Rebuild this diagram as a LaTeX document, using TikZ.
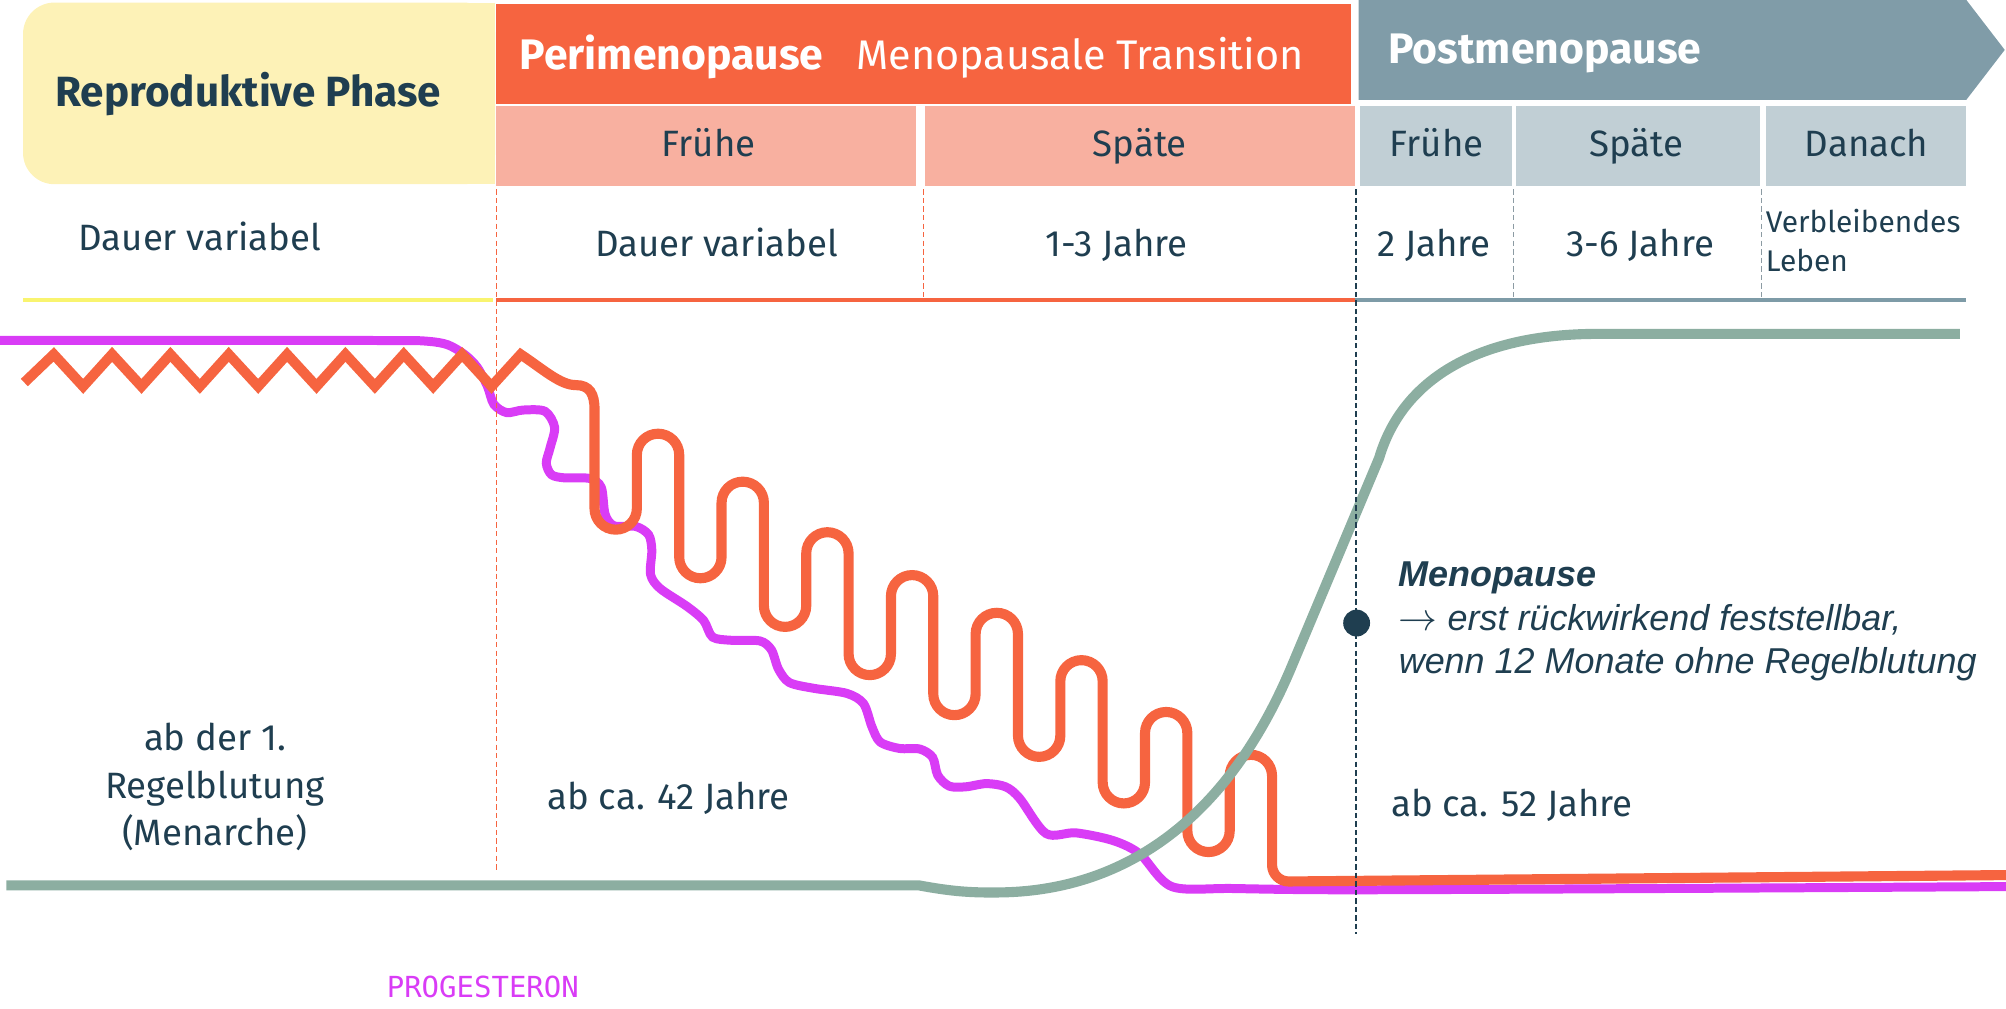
\documentclass[tikz,border=0pt]{standalone}
\usepackage{fontspec}
\setmainfont{Fira Sans}
\newfontfamily\arialfont{Liberation Sans}
\newfontfamily\codefont{DejaVu Sans Mono}
\usepackage{tikz}
\usetikzlibrary{positioning}

\definecolor{navy}{HTML}{1F3E50}
\definecolor{periorange}{HTML}{F66440}
\definecolor{perisalmon}{HTML}{F8B0A0}
\definecolor{reproyellow}{HTML}{FDF2B7}
\definecolor{reproline}{HTML}{F9F46F}
\definecolor{postblue}{HTML}{809CA8}
\definecolor{postlight}{HTML}{C1CFD5}
\definecolor{postline}{HTML}{7E9BA7}
\definecolor{sepgray}{HTML}{8C9BA3}
\definecolor{fshgreen}{HTML}{8CAEA1}
\definecolor{progmagenta}{HTML}{D93CF6}

\begin{document}
\begin{tikzpicture}[x=0.02cm, y=-0.02cm,
        txt/.style={text=navy, inner sep=0pt, font=\fontsize{16.3}{21}\selectfont},
        smalltxt/.style={text=navy, inner sep=0pt, align=left, font=\fontsize{13.3}{17.5}\selectfont},
        phasetxt/.style={text=navy, inner sep=0pt, font=\fontsize{18.8}{22}\selectfont\bfseries},
        headtxt/.style={text=white, inner sep=0pt, font=\fontsize{19}{22}\selectfont\bfseries},
        menotxt/.style={text=navy, inner sep=0pt, align=left, font=\arialfont\itshape\fontsize{16}{19.4}\selectfont},
        hormone/.style={line width=4.5pt},
        rowline/.style={line width=2pt},
        sep/.style={line width=0.7pt, dash pattern=on 2.4pt off 1.4pt}]

        \def\legstep{33.1}
        \def\rad{16.55}

        \useasboundingbox (0,0) rectangle (1568,788);

        % phase boxes
        \fill[reproyellow, rounded corners=14pt] (18,2) rectangle (387,144);
        \fill[reproyellow] (200,2) rectangle (387,144);
        \fill[periorange] (388,3) rectangle (1056,81);
        \fill[postblue] (1062,0) -- (1537,0) -- (1567,39) -- (1537,78) -- (1062,78) -- cycle;

        % sub phase cells
        \foreach \a/\b in {388/716, 723/1059}
        {
            \fill[perisalmon] (\a,83) rectangle (\b,145);
        }
        \foreach \a/\b in {1063/1182, 1185/1376, 1380/1537}
        {
            \fill[postlight] (\a,83) rectangle (\b,145);
        }

        % headings
        \node[phasetxt, anchor=base west] (repro) at (43,83) {Reproduktive Phase};
        \node[headtxt, anchor=base west] (peri) at (406,54) {Perimenopause};
        \node[headtxt, font=\fontsize{18.4}{22}\selectfont, anchor=base west] (transition) at (669,54) {Menopausale Transition};
        \node[headtxt, anchor=base west] (post) at (1085,49.5) {Postmenopause};

        \node[txt, anchor=base] (perifrueh) at (554,122.5) {Frühe};
        \node[txt, anchor=base] (perispaet) at (891,122.5) {Späte};
        \node[txt, anchor=base] (postfrueh) at (1123,122.5) {Frühe};
        \node[txt, anchor=base] (postspaet) at (1279,122.5) {Späte};
        \node[txt, anchor=base] (danach) at (1459,122.5) {Danach};

        % durations
        \node[txt, anchor=base west] (reprodauer) at (61,195.5) {Dauer variabel};
        \node[txt, anchor=base] (fruehdauer) at (560,200.7) {Dauer variabel};
        \node[txt, anchor=base] (spaetdauer) at (873,200.7) {1-3 Jahre};
        \node[txt, anchor=base] (postfruehdauer) at (1121,200.7) {2 Jahre};
        \node[txt, anchor=base] (postspaetdauer) at (1282,200.7) {3-6 Jahre};
        \node[smalltxt, anchor=base west] (danachdauer) at (1380,212.4) {Verbleibendes\\Leben};

        % row lines
        \draw[rowline, reproline] (18,234.5) -- (385,234.5);
        \draw[rowline, periorange] (388,234.5) -- (1059,234.5);
        \draw[rowline, postline] (1059,234.5) -- (1537,234.5);

        % onset ages
        \node[txt, align=center, anchor=base] (menarche) at (168,660.8) {ab der 1.\\Regelblutung\\(Menarche)};
        \node[txt, anchor=base west] (age42) at (427.6,632.6) {ab ca. 42 Jahre};
        \node[txt, anchor=base west] (age52) at (1087,638) {ab ca. 52 Jahre};

        % progesterone
        \draw[hormone, progmagenta, line width=4pt] plot[smooth, tension=0.5] coordinates {
            (0,266) (160,266) (310,266.2) (335,266.8) (350,269.5) (363,277) (373,287)
            (381,302) (386,316) (396,322.5)
            (409,320.5) (426,321.5) (433.5,334) (430,350) (427,362) (431,371) (441,373.5)
            (461,374) (470,381) (473,402) (480,411) (497,411.5) (507,418) (509.5,430)
            (508.5,449) (516,460) (537,474) (550,485) (557,498) (572,500.5) (594,501)
            (603,508) (608.5,523) (617,533.5) (636,538) (662,542) (675,550) (681.5,568)
            (688,580) (703,585) (719,585.5) (729,592) (733,606) (742,614.5) (755,615)
            (771,612.5) (786,615) (797,624) (817.6,651.5) (841,651) (870,657) (891,667.5)
            (916,693) (964,694.5) (1055,695.5) (1300,694.5) (1568,693)};

        % estradiol
        \draw[hormone, periorange, line join=miter] (19,299)
            \foreach \k in {0,...,7} { -- ({42+45.6*\k},277) -- ({65+45.6*\k},302) }
            -- (407,277) .. controls (425,289) and (438,301) .. (450,301)
            .. controls (461,301) and (464.7,308) .. (464.7,320)
            \foreach \b/\t [count=\j from 0] in {414/339, 452/376.5, 490/416, 527.7/449.5,
                559/479, 591.6/516, 628/556.5, 666/590}
            {
                -- ({464.7+2*\legstep*\j},{\b-\rad}) arc (180:0:\rad)
                -- ({464.7+2*\legstep*\j+\legstep},{\t+\rad}) arc (180:360:\rad)
            }
            -- (994.3,676) arc (180:90:13) -- (1568,684);

        % fsh
        \draw[hormone, fshgreen] (5,692) -- (718,692)
            .. controls (745,697) and (760,698) .. (785,697.5)
            .. controls (880,695) and (960,640) .. (1010,520) -- (1078,358)
            .. controls (1095,300) and (1150,262) .. (1245,261) -- (1532,261);

        % phase separators
        \draw[sep, periorange] (388,148) -- (388,680);
        \draw[sep, periorange] (722,148) -- (722,232);
        \draw[sep, navy] (1060,148) -- (1060,730);
        \draw[sep, sepgray] (1183,148) -- (1183,232);
        \draw[sep, sepgray] (1377,148) -- (1377,232);

        % menopause
        \node[circle, fill=navy, inner sep=0pt, minimum size=0.42cm] (menodot) at (1060.4,487) {};
        \node[menotxt, anchor=base west] (menolabel) at (1093,526.8) {\textbf{Menopause}\\$\rightarrow$ erst rückwirkend feststellbar,\\wenn 12 Monate ohne Regelblutung};

        \node[anchor=base west, text=progmagenta, inner sep=0pt, font=\codefont\fontsize{12.9}{15}\selectfont] (progest) at (302,780) {PROGESTERON};
    \end{tikzpicture}
\end{document}
